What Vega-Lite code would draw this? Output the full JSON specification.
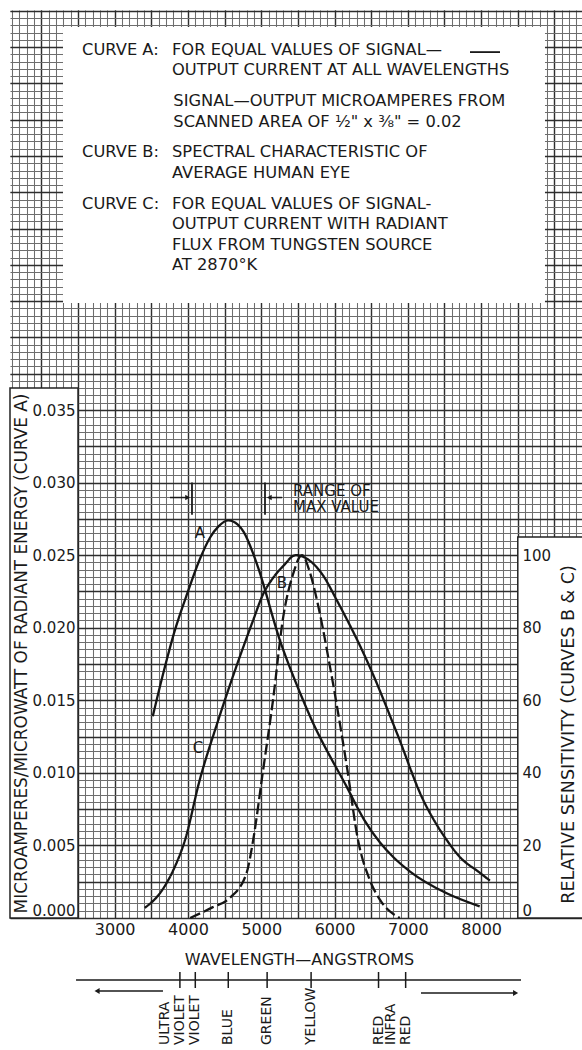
{
  "$schema": "https://vega.github.io/schema/vega-lite/v6.json",
  "width": 572,
  "height": 908,
  "autosize": {"type": "none"},
  "padding": {"left": 10, "top": 10, "right": 0, "bottom": 132},
  "background": "white",
  "config": {
    "view": {"stroke": null},
    "font": "DejaVu Sans",
    "text": {"font": "DejaVu Sans", "color": "#1a1a1a"},
    "axis": {"labelFont": "DejaVu Sans", "titleFont": "DejaVu Sans", "labelColor": "#1a1a1a", "titleColor": "#1a1a1a", "titleFontWeight": "normal"}
  },
  "datasets": {
    "curveA": [
      {"wl": 3520, "value": 0.0139}, {"wl": 3650, "value": 0.0166}, {"wl": 3820, "value": 0.0198},
      {"wl": 4000, "value": 0.0225}, {"wl": 4160, "value": 0.0247}, {"wl": 4300, "value": 0.0262},
      {"wl": 4420, "value": 0.0270}, {"wl": 4550, "value": 0.0274}, {"wl": 4680, "value": 0.0271},
      {"wl": 4760, "value": 0.0266}, {"wl": 4890, "value": 0.0251}, {"wl": 4960, "value": 0.0241},
      {"wl": 5250, "value": 0.0192}, {"wl": 5530, "value": 0.0155}, {"wl": 5700, "value": 0.0135},
      {"wl": 6170, "value": 0.0090}, {"wl": 6400, "value": 0.0068}, {"wl": 6620, "value": 0.0052},
      {"wl": 6800, "value": 0.0042}, {"wl": 7030, "value": 0.0032}, {"wl": 7530, "value": 0.0017},
      {"wl": 7980, "value": 0.0008}
    ],
    "curvesBC": [
      {"curve": "B", "wl": 4030, "sens": 0}, {"curve": "B", "wl": 4340, "sens": 3}, {"curve": "B", "wl": 4570, "sens": 5.5},
      {"curve": "B", "wl": 4800, "sens": 12.4}, {"curve": "B", "wl": 4890, "sens": 21.5}, {"curve": "B", "wl": 5020, "sens": 40},
      {"curve": "B", "wl": 5160, "sens": 60}, {"curve": "B", "wl": 5300, "sens": 83}, {"curve": "B", "wl": 5430, "sens": 94.5},
      {"curve": "B", "wl": 5555, "sens": 100}, {"curve": "B", "wl": 5660, "sens": 95.5}, {"curve": "B", "wl": 5760, "sens": 87.6},
      {"curve": "B", "wl": 5940, "sens": 69}, {"curve": "B", "wl": 6170, "sens": 41.5}, {"curve": "B", "wl": 6320, "sens": 21.5},
      {"curve": "B", "wl": 6480, "sens": 10.5}, {"curve": "B", "wl": 6620, "sens": 5}, {"curve": "B", "wl": 6890, "sens": 0},
      {"curve": "C", "wl": 3410, "sens": 2.8}, {"curve": "C", "wl": 3620, "sens": 6.9}, {"curve": "C", "wl": 3800, "sens": 13.2},
      {"curve": "C", "wl": 3960, "sens": 21.5}, {"curve": "C", "wl": 4160, "sens": 38}, {"curve": "C", "wl": 4400, "sens": 53.7},
      {"curve": "C", "wl": 4610, "sens": 66.4}, {"curve": "C", "wl": 4890, "sens": 82.1}, {"curve": "C", "wl": 5020, "sens": 89},
      {"curve": "C", "wl": 5160, "sens": 93.7}, {"curve": "C", "wl": 5300, "sens": 97}, {"curve": "C", "wl": 5470, "sens": 100},
      {"curve": "C", "wl": 5660, "sens": 98.5}, {"curve": "C", "wl": 5840, "sens": 94.5},
      {"curve": "C", "wl": 6030, "sens": 87.6}, {"curve": "C", "wl": 6480, "sens": 69.2}, {"curve": "C", "wl": 6850, "sens": 51},
      {"curve": "C", "wl": 7210, "sens": 32.5}, {"curve": "C", "wl": 7400, "sens": 25.5}, {"curve": "C", "wl": 7530, "sens": 21.5},
      {"curve": "C", "wl": 7700, "sens": 17}, {"curve": "C", "wl": 7980, "sens": 12.5}, {"curve": "C", "wl": 8120, "sens": 10.3}
    ],
    "bands": [
      {"region": "ULTRA\nVIOLET", "wl": 3890}, {"region": "VIOLET", "wl": 4100}, {"region": "BLUE", "wl": 4550},
      {"region": "GREEN", "wl": 5080}, {"region": "YELLOW", "wl": 5680}, {"region": "RED", "wl": 6600},
      {"region": "INFRA\nRED", "wl": 6970}
    ],
    "one": [{}]
  },
  "resolve": {"scale": {"y": "independent"}, "axis": {"x": "independent", "y": "independent"}},
  "layer": [
    {
      "resolve": {"axis": {"x": "independent", "y": "independent"}},
      "layer": [
        {
          "data": {"name": "curveA"},
          "mark": {"type": "point", "opacity": 0},
          "encoding": {
            "x": {"field": "wl", "type": "quantitative", "scale": {"domain": [1572, 9376], "nice": false, "zero": false},
                  "axis": {"orient": "bottom", "tickCount": 78, "grid": true, "labels": false, "ticks": false, "domain": false, "title": null, "gridColor": "#6e6e6e", "gridWidth": 1.05, "zindex": 0}},
            "y": {"field": "value", "type": "quantitative", "scale": {"domain": [0, 0.06256], "nice": false, "zero": false},
                  "axis": {"orient": "left", "tickCount": 125, "grid": true, "labels": false, "ticks": false, "domain": false, "title": null, "gridColor": "#6e6e6e", "gridWidth": 1.05, "zindex": 0}}
          }
        },
        {
          "data": {"name": "curveA"},
          "mark": {"type": "point", "opacity": 0},
          "encoding": {
            "x": {"field": "wl", "type": "quantitative", "scale": {"domain": [1572, 9376], "nice": false, "zero": false},
                  "axis": {"orient": "bottom", "tickCount": 15, "grid": true, "labels": false, "ticks": false, "domain": false, "title": null, "gridColor": "#2e2e2e", "gridWidth": 1.4, "zindex": 0}},
            "y": {"field": "value", "type": "quantitative", "scale": {"domain": [0, 0.06256], "nice": false, "zero": false},
                  "axis": {"orient": "left", "values": [0, 0.0025, 0.005, 0.0075, 0.01, 0.0125, 0.015, 0.0175, 0.02, 0.0225, 0.025, 0.0275, 0.03, 0.0325, 0.035, 0.0375, 0.04, 0.0425, 0.045, 0.0475, 0.05, 0.0525, 0.055, 0.0575, 0.06, 0.0625],
                           "grid": true, "labels": false, "ticks": false, "domain": false, "title": null, "gridColor": "#2e2e2e", "gridWidth": 1.4, "zindex": 0}}
          }
        },
        {
          "data": {"name": "one"},
          "mark": {"type": "rect", "fill": "white", "stroke": "#222", "strokeWidth": 1.5},
          "encoding": {
            "x": {"datum": 1572, "type": "quantitative", "axis": null},
            "x2": {"datum": 2500},
            "y": {"datum": 0, "type": "quantitative", "axis": null},
            "y2": {"datum": 0.03652}
          }
        },
        {
          "data": {"name": "one"},
          "mark": {"type": "rect", "fill": "white", "stroke": "#222", "strokeWidth": 1.5},
          "encoding": {
            "x": {"datum": 8500, "type": "quantitative", "axis": null},
            "x2": {"datum": 9400},
            "y": {"datum": 0, "type": "quantitative", "axis": null},
            "y2": {"datum": 0.02625}
          }
        },
        {
          "data": {"name": "one"},
          "mark": {"type": "rect", "fill": "white"},
          "encoding": {
            "x": {"datum": 2295, "type": "quantitative", "axis": null},
            "x2": {"datum": 8871},
            "y": {"datum": 0.04237, "type": "quantitative", "axis": null},
            "y2": {"datum": 0.06139}
          }
        },
        {
          "data": {"name": "curveA"},
          "mark": {"type": "line", "color": "#151515", "strokeWidth": 2.3, "interpolate": "monotone"},
          "encoding": {
            "x": {"field": "wl", "type": "quantitative",
                  "axis": {"orient": "bottom", "values": [3000, 4000, 5000, 6000, 7000, 8000], "format": "d", "grid": false, "ticks": false, "domain": false,
                           "labelFontSize": 16, "labelPadding": 3, "labelBaseline": "top",
                           "title": "WAVELENGTH—ANGSTROMS", "titleFontSize": 16, "titleX": 289, "titleY": 41, "titleBaseline": "middle", "titleAlign": "center", "zindex": 1}},
            "y": {"field": "value", "type": "quantitative",
                  "axis": {"orient": "left", "offset": -68, "values": [0, 0.005, 0.01, 0.015, 0.02, 0.025, 0.03, 0.035], "format": ".3f", "grid": false, "ticks": false, "domain": false,
                           "labelFontSize": 15, "labelPadding": 3,
                           "labelBaseline": {"condition": {"test": "datum.value === 0", "value": "bottom"}, "value": "middle"},
                           "title": "MICROAMPERES/MICROWATT OF RADIANT ENERGY (CURVE A)", "titleFontSize": 16.9, "titleAngle": 270, "titleX": -57, "titleY": 643, "titleBaseline": "middle", "titleAlign": "center", "zindex": 1}}
          }
        },
        {
          "data": {"name": "one"},
          "mark": {"type": "text", "fontSize": 16.3, "align": "left", "baseline": "alphabetic", "text": "CURVE A:"},
          "encoding": {
            "x": {"datum": 2555, "type": "quantitative", "axis": null},
            "y": {"datum": 0.05946, "type": "quantitative", "axis": null}
          }
        },
        {
          "data": {"name": "one"},
          "mark": {"type": "text", "fontSize": 16.3, "align": "left", "baseline": "alphabetic", "text": "CURVE B:"},
          "encoding": {
            "x": {"datum": 2555, "type": "quantitative", "axis": null},
            "y": {"datum": 0.05240, "type": "quantitative", "axis": null}
          }
        },
        {
          "data": {"name": "one"},
          "mark": {"type": "text", "fontSize": 16.3, "align": "left", "baseline": "alphabetic", "text": "CURVE C:"},
          "encoding": {
            "x": {"datum": 2555, "type": "quantitative", "axis": null},
            "y": {"datum": 0.04887, "type": "quantitative", "axis": null}
          }
        },
        {
          "data": {"name": "one"},
          "mark": {"type": "text", "fontSize": 16.3, "align": "left", "baseline": "alphabetic", "lineHeight": 20.5,
                   "text": ["FOR EQUAL VALUES OF SIGNAL—", "OUTPUT CURRENT AT ALL WAVELENGTHS"]},
          "encoding": {
            "x": {"datum": 3782, "type": "quantitative", "axis": null},
            "y": {"datum": 0.05946, "type": "quantitative", "axis": null}
          }
        },
        {
          "data": {"name": "one"},
          "mark": {"type": "text", "fontSize": 16.3, "align": "left", "baseline": "alphabetic", "lineHeight": 20.5,
                   "text": ["SIGNAL—OUTPUT MICROAMPERES FROM", "SCANNED AREA OF ½\" x ⅜\" = 0.02"]},
          "encoding": {
            "x": {"datum": 3800, "type": "quantitative", "axis": null},
            "y": {"datum": 0.05593, "type": "quantitative", "axis": null}
          }
        },
        {
          "data": {"name": "one"},
          "mark": {"type": "text", "fontSize": 16.3, "align": "left", "baseline": "alphabetic", "lineHeight": 20.5,
                   "text": ["SPECTRAL CHARACTERISTIC OF", "AVERAGE HUMAN EYE"]},
          "encoding": {
            "x": {"datum": 3782, "type": "quantitative", "axis": null},
            "y": {"datum": 0.05240, "type": "quantitative", "axis": null}
          }
        },
        {
          "data": {"name": "one"},
          "mark": {"type": "text", "fontSize": 16.3, "align": "left", "baseline": "alphabetic", "lineHeight": 20.5,
                   "text": ["FOR EQUAL VALUES OF SIGNAL-", "OUTPUT CURRENT WITH RADIANT", "FLUX FROM TUNGSTEN SOURCE", "AT 2870°K"]},
          "encoding": {
            "x": {"datum": 3782, "type": "quantitative", "axis": null},
            "y": {"datum": 0.04887, "type": "quantitative", "axis": null}
          }
        },
        {
          "data": {"name": "one"},
          "mark": {"type": "rule", "color": "#1a1a1a", "strokeWidth": 1.8},
          "encoding": {
            "x": {"datum": 7848, "type": "quantitative", "axis": null},
            "x2": {"datum": 8257},
            "y": {"datum": 0.05966, "type": "quantitative", "axis": null}
          }
        },
        {
          "data": {"name": "one"},
          "mark": {"type": "text", "fontSize": 15, "align": "left", "baseline": "alphabetic", "lineHeight": 16, "text": ["RANGE OF", "MAX VALUE"]},
          "encoding": {
            "x": {"datum": 5433, "type": "quantitative", "axis": null},
            "y": {"datum": 0.02908, "type": "quantitative", "axis": null}
          }
        },
        {
          "data": {"name": "one"},
          "mark": {"type": "rule", "color": "#1a1a1a", "strokeWidth": 1.8},
          "encoding": {
            "x": {"datum": 4055, "type": "quantitative", "axis": null},
            "y": {"datum": 0.030, "type": "quantitative", "axis": null},
            "y2": {"datum": 0.02779}
          }
        },
        {
          "data": {"name": "one"},
          "mark": {"type": "rule", "color": "#1a1a1a", "strokeWidth": 1.8},
          "encoding": {
            "x": {"datum": 5051, "type": "quantitative", "axis": null},
            "y": {"datum": 0.030, "type": "quantitative", "axis": null},
            "y2": {"datum": 0.02779}
          }
        },
        {
          "data": {"name": "one"},
          "mark": {"type": "rule", "color": "#1a1a1a", "strokeWidth": 1.5},
          "encoding": {
            "x": {"datum": 3755, "type": "quantitative", "axis": null},
            "x2": {"datum": 4000},
            "y": {"datum": 0.02897, "type": "quantitative", "axis": null}
          }
        },
        {
          "data": {"name": "one"},
          "mark": {"type": "rule", "color": "#1a1a1a", "strokeWidth": 1.5},
          "encoding": {
            "x": {"datum": 5110, "type": "quantitative", "axis": null},
            "x2": {"datum": 5283},
            "y": {"datum": 0.02897, "type": "quantitative", "axis": null}
          }
        },
        {
          "data": {"name": "one"},
          "mark": {"type": "point", "shape": "triangle-right", "filled": true, "color": "#1a1a1a", "size": 30, "opacity": 1},
          "encoding": {
            "x": {"datum": 3995, "type": "quantitative", "axis": null},
            "y": {"datum": 0.02897, "type": "quantitative", "axis": null}
          }
        },
        {
          "data": {"name": "one"},
          "mark": {"type": "point", "shape": "triangle-left", "filled": true, "color": "#1a1a1a", "size": 30, "opacity": 1},
          "encoding": {
            "x": {"datum": 5110, "type": "quantitative", "axis": null},
            "y": {"datum": 0.02897, "type": "quantitative", "axis": null}
          }
        },
        {
          "data": {"name": "one"},
          "mark": {"type": "text", "fontSize": 15, "align": "center", "baseline": "middle", "text": "A"},
          "encoding": {
            "x": {"datum": 4164, "type": "quantitative", "axis": null},
            "y": {"datum": 0.02652, "type": "quantitative", "axis": null}
          }
        },
        {
          "data": {"name": "one"},
          "mark": {"type": "text", "fontSize": 15, "align": "center", "baseline": "middle", "text": "B"},
          "encoding": {
            "x": {"datum": 5283, "type": "quantitative", "axis": null},
            "y": {"datum": 0.02308, "type": "quantitative", "axis": null}
          }
        },
        {
          "data": {"name": "one"},
          "mark": {"type": "text", "fontSize": 15, "align": "center", "baseline": "middle", "text": "C"},
          "encoding": {
            "x": {"datum": 4137, "type": "quantitative", "axis": null},
            "y": {"datum": 0.01171, "type": "quantitative", "axis": null}
          }
        },
        {
          "data": {"name": "one"},
          "mark": {"type": "rule", "color": "#1a1a1a", "strokeWidth": 1.3},
          "encoding": {
            "x": {"datum": 2473, "type": "quantitative", "axis": null},
            "x2": {"datum": 8544},
            "y": {"datum": -0.004272, "type": "quantitative", "axis": null}
          }
        },
        {
          "data": {"name": "bands"},
          "mark": {"type": "rule", "color": "#1a1a1a", "strokeWidth": 1.5},
          "encoding": {
            "x": {"field": "wl", "type": "quantitative", "axis": null},
            "y": {"datum": -0.00372, "type": "quantitative", "axis": null},
            "y2": {"datum": -0.004823}
          }
        },
        {
          "data": {"name": "bands"},
          "transform": [{"filter": "indexof(datum.region, '\\n') < 0"}],
          "mark": {"type": "text", "fontSize": 14, "angle": 270, "align": "left", "baseline": "middle"},
          "encoding": {
            "x": {"field": "wl", "type": "quantitative", "axis": null},
            "y": {"datum": -0.00875, "type": "quantitative", "axis": null},
            "text": {"field": "region"}
          }
        },
        {
          "data": {"name": "bands"},
          "transform": [{"filter": "indexof(datum.region, '\\n') >= 0"}],
          "mark": {"type": "text", "fontSize": 14, "angle": 270, "align": "left", "baseline": "middle", "lineBreak": "\n", "lineHeight": 15, "dy": -15},
          "encoding": {
            "x": {"field": "wl", "type": "quantitative", "axis": null},
            "y": {"datum": -0.00875, "type": "quantitative", "axis": null},
            "text": {"field": "region"}
          }
        },
        {
          "data": {"name": "one"},
          "mark": {"type": "rule", "color": "#1a1a1a", "strokeWidth": 1.5},
          "encoding": {
            "x": {"datum": 2780, "type": "quantitative", "axis": null},
            "x2": {"datum": 3659},
            "y": {"datum": -0.00503, "type": "quantitative", "axis": null}
          }
        },
        {
          "data": {"name": "one"},
          "mark": {"type": "point", "shape": "triangle-left", "filled": true, "color": "#1a1a1a", "size": 35, "opacity": 1},
          "encoding": {
            "x": {"datum": 2760, "type": "quantitative", "axis": null},
            "y": {"datum": -0.00503, "type": "quantitative", "axis": null}
          }
        },
        {
          "data": {"name": "one"},
          "mark": {"type": "rule", "color": "#1a1a1a", "strokeWidth": 1.5},
          "encoding": {
            "x": {"datum": 7179, "type": "quantitative", "axis": null},
            "x2": {"datum": 8450},
            "y": {"datum": -0.005167, "type": "quantitative", "axis": null}
          }
        },
        {
          "data": {"name": "one"},
          "mark": {"type": "point", "shape": "triangle-right", "filled": true, "color": "#1a1a1a", "size": 35, "opacity": 1},
          "encoding": {
            "x": {"datum": 8470, "type": "quantitative", "axis": null},
            "y": {"datum": -0.005167, "type": "quantitative", "axis": null}
          }
        }
      ]
    },
    {
      "data": {"name": "curvesBC"},
      "mark": {"type": "line", "color": "#151515", "strokeWidth": 2.3, "interpolate": "monotone"},
      "encoding": {
        "x": {"field": "wl", "type": "quantitative", "scale": {"domain": [1572, 9376], "nice": false, "zero": false}, "axis": null},
        "y": {"field": "sens", "type": "quantitative", "scale": {"domain": [0, 250.24], "nice": false, "zero": false},
              "axis": {"orient": "right", "offset": -64, "values": [0, 20, 40, 60, 80, 100], "grid": false, "ticks": false, "domain": false,
                       "labelFontSize": 15, "labelPadding": 4,
                       "labelBaseline": {"condition": {"test": "datum.value === 0", "value": "bottom"}, "value": "middle"},
                       "title": "RELATIVE SENSITIVITY (CURVES B & C)", "titleFontSize": 17.5, "titleAngle": 270, "titleX": 50, "titleY": 724, "titleBaseline": "middle", "titleAlign": "center", "zindex": 1}},
        "detail": {"field": "curve"},
        "strokeDash": {"field": "curve", "type": "nominal", "scale": {"domain": ["B", "C"], "range": [[11, 4], [1, 0]]}, "legend": null}
      }
    }
  ]
}
